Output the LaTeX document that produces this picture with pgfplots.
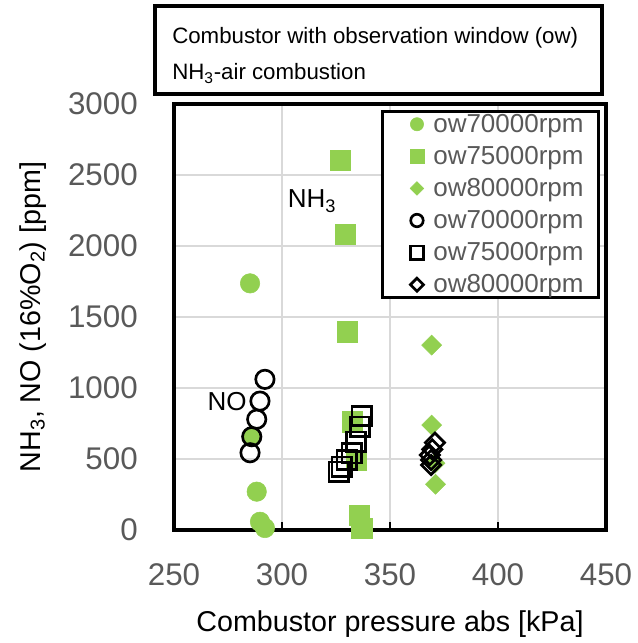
\documentclass[border=0pt]{standalone}
\usepackage{pgfplots}
\pgfplotsset{compat=1.18}
\usepackage{fontspec}
\setmainfont{Liberation Sans}
\definecolor{exgreen}{HTML}{92D050}
\definecolor{ticktxt}{HTML}{595959}
\definecolor{gridc}{HTML}{D9D9D9}

\begin{document}
\begin{tikzpicture}
\begin{axis}[
  scale only axis, width=324pt, height=319.5pt,
  xmin=250, xmax=450, ymin=0, ymax=3000,
  xtick={250,300,...,450}, ytick={0,500,...,3000},
  clip=false,
  grid=major, major grid style={gridc, line width=1.1pt},
  axis line style={line width=3pt},
  tick align=inside, xtick pos=bottom,
  major tick length=6pt,
  xtick style={black, line width=2pt},
  ytick style={draw=none},
  /pgf/number format/assume math mode=true,
  /pgf/number format/1000 sep={},
  ticklabel style={font=\fontsize{23.5}{26}\selectfont, text=ticktxt},
  yticklabel style={anchor=east, inner sep=0pt, xshift=-27pt},
  xticklabel style={anchor=north, inner sep=0pt, yshift=-24.75pt},
  xlabel={Combustor pressure abs [kPa]},
  ylabel={NH\textsubscript{3}, NO (16\%O\textsubscript{2}) [ppm]},
  label style={font=\fontsize{21.5}{24}\selectfont},
  xlabel style={at={(axis description cs:0.5,-0.2394)}, anchor=base},
  ylabel style={at={(axis description cs:-0.310,0.5)}, anchor=base},
  legend cell align=left,
  legend style={at={(0.986,0.986)}, anchor=north east, draw=black,
    line width=2.5pt, fill=white, text=ticktxt,
    font=\fontsize{19.5}{22}\selectfont,
    inner xsep=8.1pt, inner ysep=-1pt, row sep=3.15pt, column sep=3.35pt,
    nodes={inner sep=2.9pt}},
  legend image code/.code={%
    \path (-16.65pt,0pt) (5pt,0pt);
    \draw[#1] plot coordinates {(0pt,0pt)};},
  legend image post style={every mark/.append style={scale=0.68}},
]
% NH3
\addplot[only marks, mark=*, color=exgreen, line width=0.4pt, mark size=7.3pt]
  coordinates {(285.2,1737)(286,657)(288.3,270)(289.8,58)(292.1,14)};
\addlegendentry{ow70000rpm}
\addplot[only marks, mark=square*, color=exgreen, line width=0.4pt, mark size=7.6pt]
  coordinates {(326.9,2605)(329.2,2082)(330.2,1396)(332.7,762)(334.3,493)(335.8,106)(336.9,12)};
\addlegendentry{ow75000rpm}
\addplot[only marks, mark=square*, color=exgreen, line width=0.4pt, mark size=5.3pt,
  mark options={rotate=45}]
  coordinates {(369.3,1302)(369.3,739)(370.8,470)(371.1,322)};
\addlegendentry{ow80000rpm}
% NO
\addplot[only marks, mark=o, color=black, line width=2pt, mark size=6.9pt]
  coordinates {(292.1,1061)(289.8,908)(288.3,780)(286,657)(285.2,544)};
\addlegendentry{ow70000rpm}
\addplot[only marks, mark=square, color=black, line width=2pt, mark size=7.25pt]
  coordinates {(336.9,803)(336.1,727)(334.3,622)(332.3,540)(330,493)(327.7,446)(326.2,411)};
\addlegendentry{ow75000rpm}
\addplot[only marks, mark=square, color=black, line width=2pt, mark size=5.1pt,
  mark options={rotate=45}]
  coordinates {(370.8,615)(369.6,568)(368.5,528)(369,493)(369,458)};
\addlegendentry{ow80000rpm}

\node[anchor=base west, font=\fontsize{19.5}{22}\selectfont] at (axis cs:300.5,2268) {NH\textsubscript{3}};
\node[anchor=base west, font=\fontsize{19.5}{22}\selectfont] at (axis cs:263.4,845) {NO};
\end{axis}
\draw[line width=2.5pt, fill=white] (-14.25pt,327pt) rectangle (321pt,393pt);
\node[anchor=base west, inner sep=0pt, font=\fontsize{16.7}{19}\selectfont] at (-1.5pt,364.5pt)
  {Combustor with observation window (ow)};
\node[anchor=base west, inner sep=0pt, font=\fontsize{16.7}{19}\selectfont] at (-1.5pt,337.5pt)
  {NH\textsubscript{3}-air combustion};
\pgfresetboundingbox
\path[use as bounding box] (-130.5pt,-84.75pt) rectangle (348pt,397.5pt);
\end{tikzpicture}
\end{document}
